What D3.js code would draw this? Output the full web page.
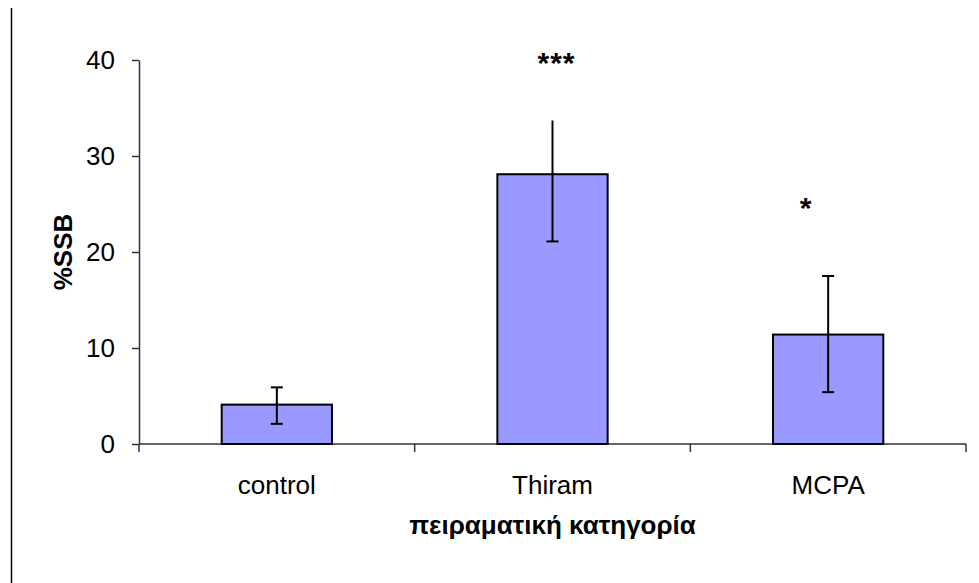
<!DOCTYPE html>
<html>
<head>
<meta charset="utf-8">
<script src="https://cdn.jsdelivr.net/npm/d3@7"></script>
<style>
  body { margin: 0; background: #fff; }
  svg { display: block; font-family: "Liberation Sans", Arial, sans-serif; }
</style>
</head>
<body>
<svg id="chart"></svg>
<script>
// data
const categories = ["control", "Thiram", "MCPA"];
const values = [4.1, 28.1, 11.4];
const errUp = [1.8, 5.6, 6.1];
const errDown = [2.0, 7.0, 6.0];
const stars = ["", "***", "*"];
const starLevel = [null, 40.5, 25.4];
const yTicks = [0, 10, 20, 30, 40];

(() => {
    const width = 979;
    const height = 583;
    const margin = { top: 60, right: 13, bottom: 139, left: 139 };
    const fontSize = "26px";

    const svg = d3.select("#chart")
        .attr("width", width)
        .attr("height", height);

    // frame line on the left edge
    svg.append("line")
        .attr("x1", 11.5).attr("x2", 11.5)
        .attr("y1", 8).attr("y2", height)
        .attr("stroke", "#000")
        .attr("stroke-width", 1.5);

    const x = d3.scaleBand()
        .domain(categories)
        .range([margin.left, width - margin.right])
        .paddingInner(0.6)
        .paddingOuter(0.3);

    const y = d3.scaleLinear()
        .domain([0, 40])
        .range([height - margin.bottom, margin.top]);

    const band = x.step();

    // y axis
    const yAxis = svg.append("g")
        .attr("transform", `translate(${margin.left},0)`)
        .call(d3.axisLeft(y).tickValues(yTicks).tickSize(7).tickPadding(17).tickSizeOuter(0));
    yAxis.select(".domain").attr("stroke", "#333").attr("stroke-width", 1.5);
    yAxis.selectAll(".tick line").attr("stroke", "#333").attr("stroke-width", 1.5);
    yAxis.selectAll("text")
        .attr("font-size", fontSize)
        .attr("fill", "#000")
        .attr("font-family", "Liberation Sans, Arial, sans-serif");

    // x axis with ticks at category boundaries
    const xAxisY = y(0);
    const bounds = d3.range(categories.length + 1).map(i => margin.left + i * band);
    svg.append("line")
        .attr("x1", margin.left).attr("x2", width - margin.right)
        .attr("y1", xAxisY).attr("y2", xAxisY)
        .attr("stroke", "#333").attr("stroke-width", 1.5);
    svg.selectAll(".xtick")
        .data(bounds)
        .enter()
        .append("line")
        .attr("class", "xtick")
        .attr("x1", d => d).attr("x2", d => d)
        .attr("y1", xAxisY).attr("y2", xAxisY + 8)
        .attr("stroke", "#333").attr("stroke-width", 1.5);

    svg.selectAll(".xlabel")
        .data(categories)
        .enter()
        .append("text")
        .attr("class", "xlabel")
        .attr("x", d => x(d) + x.bandwidth() / 2)
        .attr("y", xAxisY + 50)
        .attr("text-anchor", "middle")
        .attr("font-size", fontSize)
        .text(d => d);

    // bars
    svg.selectAll(".bar")
        .data(values)
        .enter()
        .append("rect")
        .attr("class", "bar")
        .attr("x", (d, i) => x(categories[i]))
        .attr("y", d => y(d))
        .attr("width", x.bandwidth())
        .attr("height", d => y(0) - y(d))
        .attr("fill", "#9999ff")
        .attr("stroke", "#000")
        .attr("stroke-width", 2);

    // error bars
    const cap = 6;
    const err = svg.append("g").attr("stroke", "#000").attr("stroke-width", 2);
    values.forEach((v, i) => {
        const cx = x(categories[i]) + x.bandwidth() / 2;
        const top = y(v + errUp[i]);
        const bot = y(v - errDown[i]);
        err.append("line").attr("x1", cx).attr("x2", cx).attr("y1", top).attr("y2", bot);
        if (i !== 1) {
            err.append("line").attr("x1", cx - cap).attr("x2", cx + cap).attr("y1", top).attr("y2", top);
        }
        err.append("line").attr("x1", cx - cap).attr("x2", cx + cap).attr("y1", bot).attr("y2", bot);
    });

    // significance stars
    categories.forEach((c, i) => {
        if (!stars[i]) return;
        svg.append("text")
            .attr("class", "star")
            .attr("x", x(c) + x.bandwidth() / 2 + (stars[i].length === 1 ? -22 : 4))
            .attr("y", y(starLevel[i]) + 18)
            .attr("text-anchor", "middle")
            .attr("font-size", "30px")
            .attr("font-weight", "bold")
            .attr("letter-spacing", "1px")
            .text(stars[i]);
    });

    // axis titles
    svg.append("text")
        .attr("transform", `translate(72,${y(20)}) rotate(-90)`)
        .attr("text-anchor", "middle")
        .attr("font-size", fontSize)
        .attr("font-weight", "bold")
        .text("%SSB");

    svg.append("text")
        .attr("x", margin.left + band * 1.5)
        .attr("y", xAxisY + 90)
        .attr("text-anchor", "middle")
        .attr("font-size", fontSize)
        .attr("font-weight", "bold")
        .text("πειραματική κατηγορία");
})();
</script>
</body>
</html>
